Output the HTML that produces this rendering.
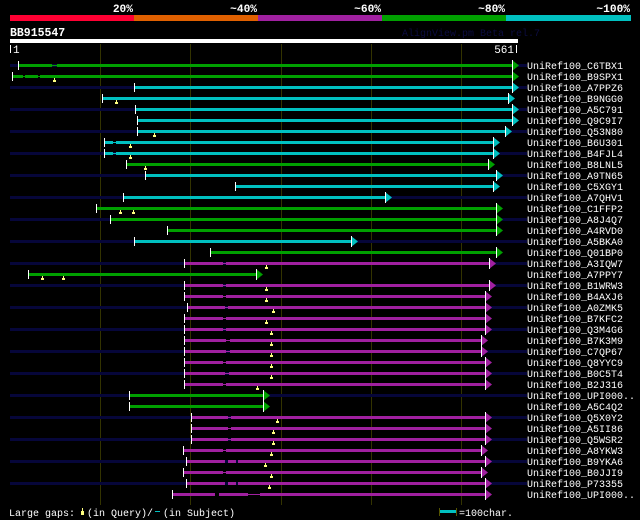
<!DOCTYPE html>
<html><head><meta charset="utf-8"><style>
html,body{margin:0;padding:0;background:#000;}
svg{display:block}
text{font-family:"Liberation Mono","DejaVu Sans Mono",monospace;fill:#fff}
.l{font-size:10px}
.h{font-size:11.2px;font-weight:bold}
</style></head><body>
<svg width="640" height="520" viewBox="0 0 640 520" xmlns="http://www.w3.org/2000/svg">
<rect width="640" height="520" fill="#000"/>
<rect x="10" y="15" width="124" height="6" fill="#ff0033"/>
<rect x="134" y="15" width="124" height="6" fill="#e06000"/>
<rect x="258" y="15" width="124" height="6" fill="#a020a0"/>
<rect x="382" y="15" width="124" height="6" fill="#00a000"/>
<rect x="506" y="15" width="125" height="6" fill="#00c0c0"/>
<text class="h" x="133" y="12" text-anchor="end">20%</text>
<text class="h" x="257" y="12" text-anchor="end">~40%</text>
<text class="h" x="381" y="12" text-anchor="end">~60%</text>
<text class="h" x="505" y="12" text-anchor="end">~80%</text>
<text class="h" x="630" y="12" text-anchor="end">~100%</text>
<text x="10" y="36" style="font-size:11.5px;font-weight:bold">BB915547</text>
<text x="402" y="36" style="font-size:10px;fill:#0c0c40">AlignView.pm Beta rel.7</text>
<rect x="10" y="39" width="508" height="4" fill="#fff"/>
<rect x="10" y="45" width="1" height="8" fill="#fff"/>
<text x="13" y="53" style="font-size:11px">1</text>
<text x="514" y="53" text-anchor="end" style="font-size:11px">561</text>
<rect x="516" y="45" width="1" height="8" fill="#fff"/>
<g fill="#333300">
<rect x="100" y="44" width="1" height="461"/>
<rect x="190" y="44" width="1" height="461"/>
<rect x="281" y="44" width="1" height="461"/>
<rect x="371" y="44" width="1" height="461"/>
<rect x="461" y="44" width="1" height="461"/>
</g>
<g fill="#06063a">
<rect x="10" y="64" width="517" height="3"/>
<rect x="10" y="86" width="517" height="3"/>
<rect x="10" y="108" width="517" height="3"/>
<rect x="10" y="130" width="517" height="3"/>
<rect x="10" y="152" width="517" height="3"/>
<rect x="10" y="174" width="517" height="3"/>
<rect x="10" y="196" width="517" height="3"/>
<rect x="10" y="218" width="517" height="3"/>
<rect x="10" y="240" width="517" height="3"/>
<rect x="10" y="262" width="517" height="3"/>
<rect x="10" y="284" width="517" height="3"/>
<rect x="10" y="306" width="517" height="3"/>
<rect x="10" y="328" width="517" height="3"/>
<rect x="10" y="350" width="517" height="3"/>
<rect x="10" y="372" width="517" height="3"/>
<rect x="10" y="394" width="517" height="3"/>
<rect x="10" y="416" width="517" height="3"/>
<rect x="10" y="438" width="517" height="3"/>
<rect x="10" y="460" width="517" height="3"/>
<rect x="10" y="482" width="517" height="3"/>
</g>
<g>
<g fill="#00a000">
<rect x="18" y="64" width="34" height="3"/><rect x="52" y="65" width="5" height="1"/><rect x="57" y="64" width="455" height="3"/>
<rect x="12" y="75" width="11" height="3"/><rect x="23" y="76" width="2" height="1"/><rect x="25" y="75" width="13" height="3"/><rect x="38" y="76" width="2" height="1"/><rect x="40" y="75" width="472" height="3"/>
<rect x="126" y="163" width="362" height="3"/>
<rect x="96" y="207" width="400" height="3"/>
<rect x="110" y="218" width="386" height="3"/>
<rect x="167" y="229" width="329" height="3"/>
<rect x="210" y="251" width="286" height="3"/>
<rect x="28" y="273" width="228" height="3"/>
<rect x="129" y="394" width="134" height="3"/>
<rect x="129" y="405" width="134" height="3"/>
</g>
<polygon points="512,60 519,65.5 512,71" fill="#00a000"/>
<polygon points="512,71 519,76.5 512,82" fill="#00a000"/>
<polygon points="488,159 495,164.5 488,170" fill="#00a000"/>
<polygon points="496,203 503,208.5 496,214" fill="#00a000"/>
<polygon points="496,214 503,219.5 496,225" fill="#00a000"/>
<polygon points="496,225 503,230.5 496,236" fill="#00a000"/>
<polygon points="496,247 503,252.5 496,258" fill="#00a000"/>
<polygon points="256,269 263,274.5 256,280" fill="#00a000"/>
<polygon points="263,390 270,395.5 263,401" fill="#00a000"/>
<polygon points="263,401 270,406.5 263,412" fill="#00a000"/>
<g fill="#00c0c0">
<rect x="134" y="86" width="378" height="3"/>
<rect x="102" y="97" width="406" height="3"/>
<rect x="135" y="108" width="377" height="3"/>
<rect x="137" y="119" width="375" height="3"/>
<rect x="137" y="130" width="368" height="3"/>
<rect x="104" y="141" width="9" height="3"/><rect x="113" y="142" width="3" height="1"/><rect x="116" y="141" width="377" height="3"/>
<rect x="104" y="152" width="9" height="3"/><rect x="113" y="153" width="3" height="1"/><rect x="116" y="152" width="377" height="3"/>
<rect x="145" y="174" width="351" height="3"/>
<rect x="235" y="185" width="258" height="3"/>
<rect x="123" y="196" width="262" height="3"/>
<rect x="134" y="240" width="217" height="3"/>
</g>
<polygon points="512,82 519,87.5 512,93" fill="#00c0c0"/>
<polygon points="508,93 515,98.5 508,104" fill="#00c0c0"/>
<polygon points="512,104 519,109.5 512,115" fill="#00c0c0"/>
<polygon points="512,115 519,120.5 512,126" fill="#00c0c0"/>
<polygon points="505,126 512,131.5 505,137" fill="#00c0c0"/>
<polygon points="493,137 500,142.5 493,148" fill="#00c0c0"/>
<polygon points="493,148 500,153.5 493,159" fill="#00c0c0"/>
<polygon points="496,170 503,175.5 496,181" fill="#00c0c0"/>
<polygon points="493,181 500,186.5 493,192" fill="#00c0c0"/>
<polygon points="385,192 392,197.5 385,203" fill="#00c0c0"/>
<polygon points="351,236 358,241.5 351,247" fill="#00c0c0"/>
<g fill="#a020a0">
<rect x="184" y="262" width="39" height="3"/><rect x="223" y="263" width="3" height="1"/><rect x="226" y="262" width="263" height="3"/>
<rect x="184" y="284" width="39" height="3"/><rect x="223" y="285" width="3" height="1"/><rect x="226" y="284" width="263" height="3"/>
<rect x="184" y="295" width="39" height="3"/><rect x="223" y="296" width="3" height="1"/><rect x="226" y="295" width="259" height="3"/>
<rect x="187" y="306" width="38" height="3"/><rect x="225" y="307" width="3" height="1"/><rect x="228" y="306" width="257" height="3"/>
<rect x="184" y="317" width="39" height="3"/><rect x="223" y="318" width="3" height="1"/><rect x="226" y="317" width="259" height="3"/>
<rect x="184" y="328" width="39" height="3"/><rect x="223" y="329" width="3" height="1"/><rect x="226" y="328" width="259" height="3"/>
<rect x="184" y="339" width="42" height="3"/><rect x="226" y="340" width="4" height="1"/><rect x="230" y="339" width="251" height="3"/>
<rect x="184" y="350" width="42" height="3"/><rect x="226" y="351" width="4" height="1"/><rect x="230" y="350" width="251" height="3"/>
<rect x="184" y="361" width="39" height="3"/><rect x="223" y="362" width="3" height="1"/><rect x="226" y="361" width="259" height="3"/>
<rect x="184" y="372" width="41" height="3"/><rect x="225" y="373" width="4" height="1"/><rect x="229" y="372" width="256" height="3"/>
<rect x="184" y="383" width="39" height="3"/><rect x="223" y="384" width="3" height="1"/><rect x="226" y="383" width="259" height="3"/>
<rect x="191" y="416" width="37" height="3"/><rect x="228" y="417" width="3" height="1"/><rect x="231" y="416" width="254" height="3"/>
<rect x="191" y="427" width="37" height="3"/><rect x="228" y="428" width="3" height="1"/><rect x="231" y="427" width="254" height="3"/>
<rect x="191" y="438" width="37" height="3"/><rect x="228" y="439" width="3" height="1"/><rect x="231" y="438" width="254" height="3"/>
<rect x="183" y="449" width="40" height="3"/><rect x="223" y="450" width="3" height="1"/><rect x="226" y="449" width="255" height="3"/>
<rect x="186" y="460" width="39" height="3"/><rect x="228" y="460" width="8" height="3"/><rect x="238" y="460" width="247" height="3"/>
<rect x="183" y="471" width="40" height="3"/><rect x="223" y="472" width="3" height="1"/><rect x="226" y="471" width="255" height="3"/>
<rect x="186" y="482" width="39" height="3"/><rect x="228" y="482" width="8" height="3"/><rect x="238" y="482" width="247" height="3"/>
<rect x="172" y="493" width="43" height="3"/><rect x="219" y="493" width="29" height="3"/><rect x="248" y="494" width="12" height="1"/><rect x="260" y="493" width="225" height="3"/>
</g>
<g fill="#a020a0">
<polygon points="489,258 496,263.5 489,269"/>
<polygon points="489,280 496,285.5 489,291"/>
<polygon points="485,291 492,296.5 485,302"/>
<polygon points="485,302 492,307.5 485,313"/>
<polygon points="485,313 492,318.5 485,324"/>
<polygon points="485,324 492,329.5 485,335"/>
<polygon points="481,335 488,340.5 481,346"/>
<polygon points="481,346 488,351.5 481,357"/>
<polygon points="485,357 492,362.5 485,368"/>
<polygon points="485,368 492,373.5 485,379"/>
<polygon points="485,379 492,384.5 485,390"/>
<polygon points="485,412 492,417.5 485,423"/>
<polygon points="485,423 492,428.5 485,434"/>
<polygon points="485,434 492,439.5 485,445"/>
<polygon points="481,445 488,450.5 481,456"/>
<polygon points="485,456 492,461.5 485,467"/>
<polygon points="481,467 488,472.5 481,478"/>
<polygon points="485,478 492,483.5 485,489"/>
<polygon points="485,489 492,494.5 485,500"/>
</g>
</g>
<g fill="#fff">
<rect x="512" y="60" width="1" height="11"/><rect x="512" y="71" width="1" height="11"/><rect x="512" y="82" width="1" height="11"/><rect x="508" y="93" width="1" height="11"/><rect x="512" y="104" width="1" height="11"/><rect x="512" y="115" width="1" height="11"/><rect x="505" y="126" width="1" height="11"/><rect x="493" y="137" width="1" height="11"/><rect x="493" y="148" width="1" height="11"/><rect x="488" y="159" width="1" height="11"/><rect x="496" y="170" width="1" height="11"/><rect x="493" y="181" width="1" height="11"/><rect x="385" y="192" width="1" height="11"/><rect x="496" y="203" width="1" height="11"/><rect x="496" y="214" width="1" height="11"/><rect x="496" y="225" width="1" height="11"/><rect x="351" y="236" width="1" height="11"/><rect x="496" y="247" width="1" height="11"/><rect x="489" y="258" width="1" height="11"/><rect x="256" y="269" width="1" height="11"/><rect x="489" y="280" width="1" height="11"/><rect x="485" y="291" width="1" height="11"/><rect x="485" y="302" width="1" height="11"/><rect x="485" y="313" width="1" height="11"/><rect x="485" y="324" width="1" height="11"/><rect x="481" y="335" width="1" height="11"/><rect x="481" y="346" width="1" height="11"/><rect x="485" y="357" width="1" height="11"/><rect x="485" y="368" width="1" height="11"/><rect x="485" y="379" width="1" height="11"/><rect x="263" y="390" width="1" height="11"/><rect x="263" y="401" width="1" height="11"/><rect x="485" y="412" width="1" height="11"/><rect x="485" y="423" width="1" height="11"/><rect x="485" y="434" width="1" height="11"/><rect x="481" y="445" width="1" height="11"/><rect x="485" y="456" width="1" height="11"/><rect x="481" y="467" width="1" height="11"/><rect x="485" y="478" width="1" height="11"/><rect x="485" y="489" width="1" height="11"/>
<rect x="18" y="61" width="1" height="9"/><rect x="12" y="72" width="1" height="9"/><rect x="134" y="83" width="1" height="9"/><rect x="102" y="94" width="1" height="9"/><rect x="135" y="105" width="1" height="9"/><rect x="137" y="116" width="1" height="9"/><rect x="137" y="127" width="1" height="9"/><rect x="104" y="138" width="1" height="9"/><rect x="104" y="149" width="1" height="9"/><rect x="126" y="160" width="1" height="9"/><rect x="145" y="171" width="1" height="9"/><rect x="235" y="182" width="1" height="9"/><rect x="123" y="193" width="1" height="9"/><rect x="96" y="204" width="1" height="9"/><rect x="110" y="215" width="1" height="9"/><rect x="167" y="226" width="1" height="9"/><rect x="134" y="237" width="1" height="9"/><rect x="210" y="248" width="1" height="9"/><rect x="184" y="259" width="1" height="9"/><rect x="28" y="270" width="1" height="9"/><rect x="184" y="281" width="1" height="9"/><rect x="184" y="292" width="1" height="9"/><rect x="187" y="303" width="1" height="9"/><rect x="184" y="314" width="1" height="9"/><rect x="184" y="325" width="1" height="9"/><rect x="184" y="336" width="1" height="9"/><rect x="184" y="347" width="1" height="9"/><rect x="184" y="358" width="1" height="9"/><rect x="184" y="369" width="1" height="9"/><rect x="184" y="380" width="1" height="9"/><rect x="129" y="391" width="1" height="9"/><rect x="129" y="402" width="1" height="9"/><rect x="191" y="413" width="1" height="9"/><rect x="191" y="424" width="1" height="9"/><rect x="191" y="435" width="1" height="9"/><rect x="183" y="446" width="1" height="9"/><rect x="186" y="457" width="1" height="9"/><rect x="183" y="468" width="1" height="9"/><rect x="186" y="479" width="1" height="9"/><rect x="172" y="490" width="1" height="9"/>
</g>
<g fill="#ffff80">
<rect x="53" y="80" width="3" height="2"/><rect x="54" y="78" width="1" height="2"/>
<rect x="115" y="102" width="3" height="2"/><rect x="116" y="100" width="1" height="2"/>
<rect x="153" y="135" width="3" height="2"/><rect x="154" y="133" width="1" height="2"/>
<rect x="129" y="146" width="3" height="2"/><rect x="130" y="144" width="1" height="2"/>
<rect x="129" y="157" width="3" height="2"/><rect x="130" y="155" width="1" height="2"/>
<rect x="144" y="168" width="3" height="2"/><rect x="145" y="166" width="1" height="2"/>
<rect x="119" y="212" width="3" height="2"/><rect x="120" y="210" width="1" height="2"/>
<rect x="132" y="212" width="3" height="2"/><rect x="133" y="210" width="1" height="2"/>
<rect x="265" y="267" width="3" height="2"/><rect x="266" y="265" width="1" height="2"/>
<rect x="41" y="278" width="3" height="2"/><rect x="42" y="276" width="1" height="2"/>
<rect x="62" y="278" width="3" height="2"/><rect x="63" y="276" width="1" height="2"/>
<rect x="265" y="289" width="3" height="2"/><rect x="266" y="287" width="1" height="2"/>
<rect x="265" y="300" width="3" height="2"/><rect x="266" y="298" width="1" height="2"/>
<rect x="272" y="311" width="3" height="2"/><rect x="273" y="309" width="1" height="2"/>
<rect x="265" y="322" width="3" height="2"/><rect x="266" y="320" width="1" height="2"/>
<rect x="270" y="333" width="3" height="2"/><rect x="271" y="331" width="1" height="2"/>
<rect x="270" y="344" width="3" height="2"/><rect x="271" y="342" width="1" height="2"/>
<rect x="270" y="355" width="3" height="2"/><rect x="271" y="353" width="1" height="2"/>
<rect x="270" y="366" width="3" height="2"/><rect x="271" y="364" width="1" height="2"/>
<rect x="270" y="377" width="3" height="2"/><rect x="271" y="375" width="1" height="2"/>
<rect x="256" y="388" width="3" height="2"/><rect x="257" y="386" width="1" height="2"/>
<rect x="276" y="421" width="3" height="2"/><rect x="277" y="419" width="1" height="2"/>
<rect x="272" y="432" width="3" height="2"/><rect x="273" y="430" width="1" height="2"/>
<rect x="272" y="443" width="3" height="2"/><rect x="273" y="441" width="1" height="2"/>
<rect x="270" y="454" width="3" height="2"/><rect x="271" y="452" width="1" height="2"/>
<rect x="264" y="465" width="3" height="2"/><rect x="265" y="463" width="1" height="2"/>
<rect x="270" y="476" width="3" height="2"/><rect x="271" y="474" width="1" height="2"/>
<rect x="268" y="487" width="3" height="2"/><rect x="269" y="485" width="1" height="2"/>
</g>
<g>
<text class="l" x="527" y="69">UniRef100_C6TBX1</text>
<text class="l" x="527" y="80">UniRef100_B9SPX1</text>
<text class="l" x="527" y="91">UniRef100_A7PPZ6</text>
<text class="l" x="527" y="102">UniRef100_B9NGG0</text>
<text class="l" x="527" y="113">UniRef100_A5C791</text>
<text class="l" x="527" y="124">UniRef100_Q9C9I7</text>
<text class="l" x="527" y="135">UniRef100_Q53N80</text>
<text class="l" x="527" y="146">UniRef100_B6U301</text>
<text class="l" x="527" y="157">UniRef100_B4FJL4</text>
<text class="l" x="527" y="168">UniRef100_B8LNL5</text>
<text class="l" x="527" y="179">UniRef100_A9TN65</text>
<text class="l" x="527" y="190">UniRef100_C5XGY1</text>
<text class="l" x="527" y="201">UniRef100_A7QHV1</text>
<text class="l" x="527" y="212">UniRef100_C1FFP2</text>
<text class="l" x="527" y="223">UniRef100_A8J4Q7</text>
<text class="l" x="527" y="234">UniRef100_A4RVD0</text>
<text class="l" x="527" y="245">UniRef100_A5BKA0</text>
<text class="l" x="527" y="256">UniRef100_Q01BP0</text>
<text class="l" x="527" y="267">UniRef100_A3IQW7</text>
<text class="l" x="527" y="278">UniRef100_A7PPY7</text>
<text class="l" x="527" y="289">UniRef100_B1WRW3</text>
<text class="l" x="527" y="300">UniRef100_B4AXJ6</text>
<text class="l" x="527" y="311">UniRef100_A0ZMK5</text>
<text class="l" x="527" y="322">UniRef100_B7KFC2</text>
<text class="l" x="527" y="333">UniRef100_Q3M4G6</text>
<text class="l" x="527" y="344">UniRef100_B7K3M9</text>
<text class="l" x="527" y="355">UniRef100_C7QP67</text>
<text class="l" x="527" y="366">UniRef100_Q8YYC9</text>
<text class="l" x="527" y="377">UniRef100_B0C5T4</text>
<text class="l" x="527" y="388">UniRef100_B2J316</text>
<text class="l" x="527" y="399">UniRef100_UPI000..</text>
<text class="l" x="527" y="410">UniRef100_A5C4Q2</text>
<text class="l" x="527" y="421">UniRef100_Q5X0Y2</text>
<text class="l" x="527" y="432">UniRef100_A5II86</text>
<text class="l" x="527" y="443">UniRef100_Q5WSR2</text>
<text class="l" x="527" y="454">UniRef100_A8YKW3</text>
<text class="l" x="527" y="465">UniRef100_B9YKA6</text>
<text class="l" x="527" y="476">UniRef100_B0JJI9</text>
<text class="l" x="527" y="487">UniRef100_P73355</text>
<text class="l" x="527" y="498">UniRef100_UPI000..</text>
</g>
<text class="l" x="9" y="516">Large gaps:</text>
<rect x="81" y="511" width="3" height="4" fill="#ffff80"/><rect x="82" y="508" width="1" height="3" fill="#ffff80"/>
<text class="l" x="87" y="516">(in Query)/</text>
<rect x="155" y="511" width="5" height="1" fill="#00c0c0"/>
<text class="l" x="163" y="516">(in Subject)</text>
<rect x="439" y="508" width="1" height="8" fill="#555500"/>
<rect x="440" y="510" width="16" height="3" fill="#00c0c0"/>
<rect x="456" y="508" width="1" height="8" fill="#555500"/>
<text class="l" x="459" y="516">=100char.</text>
</svg>
</body></html>
